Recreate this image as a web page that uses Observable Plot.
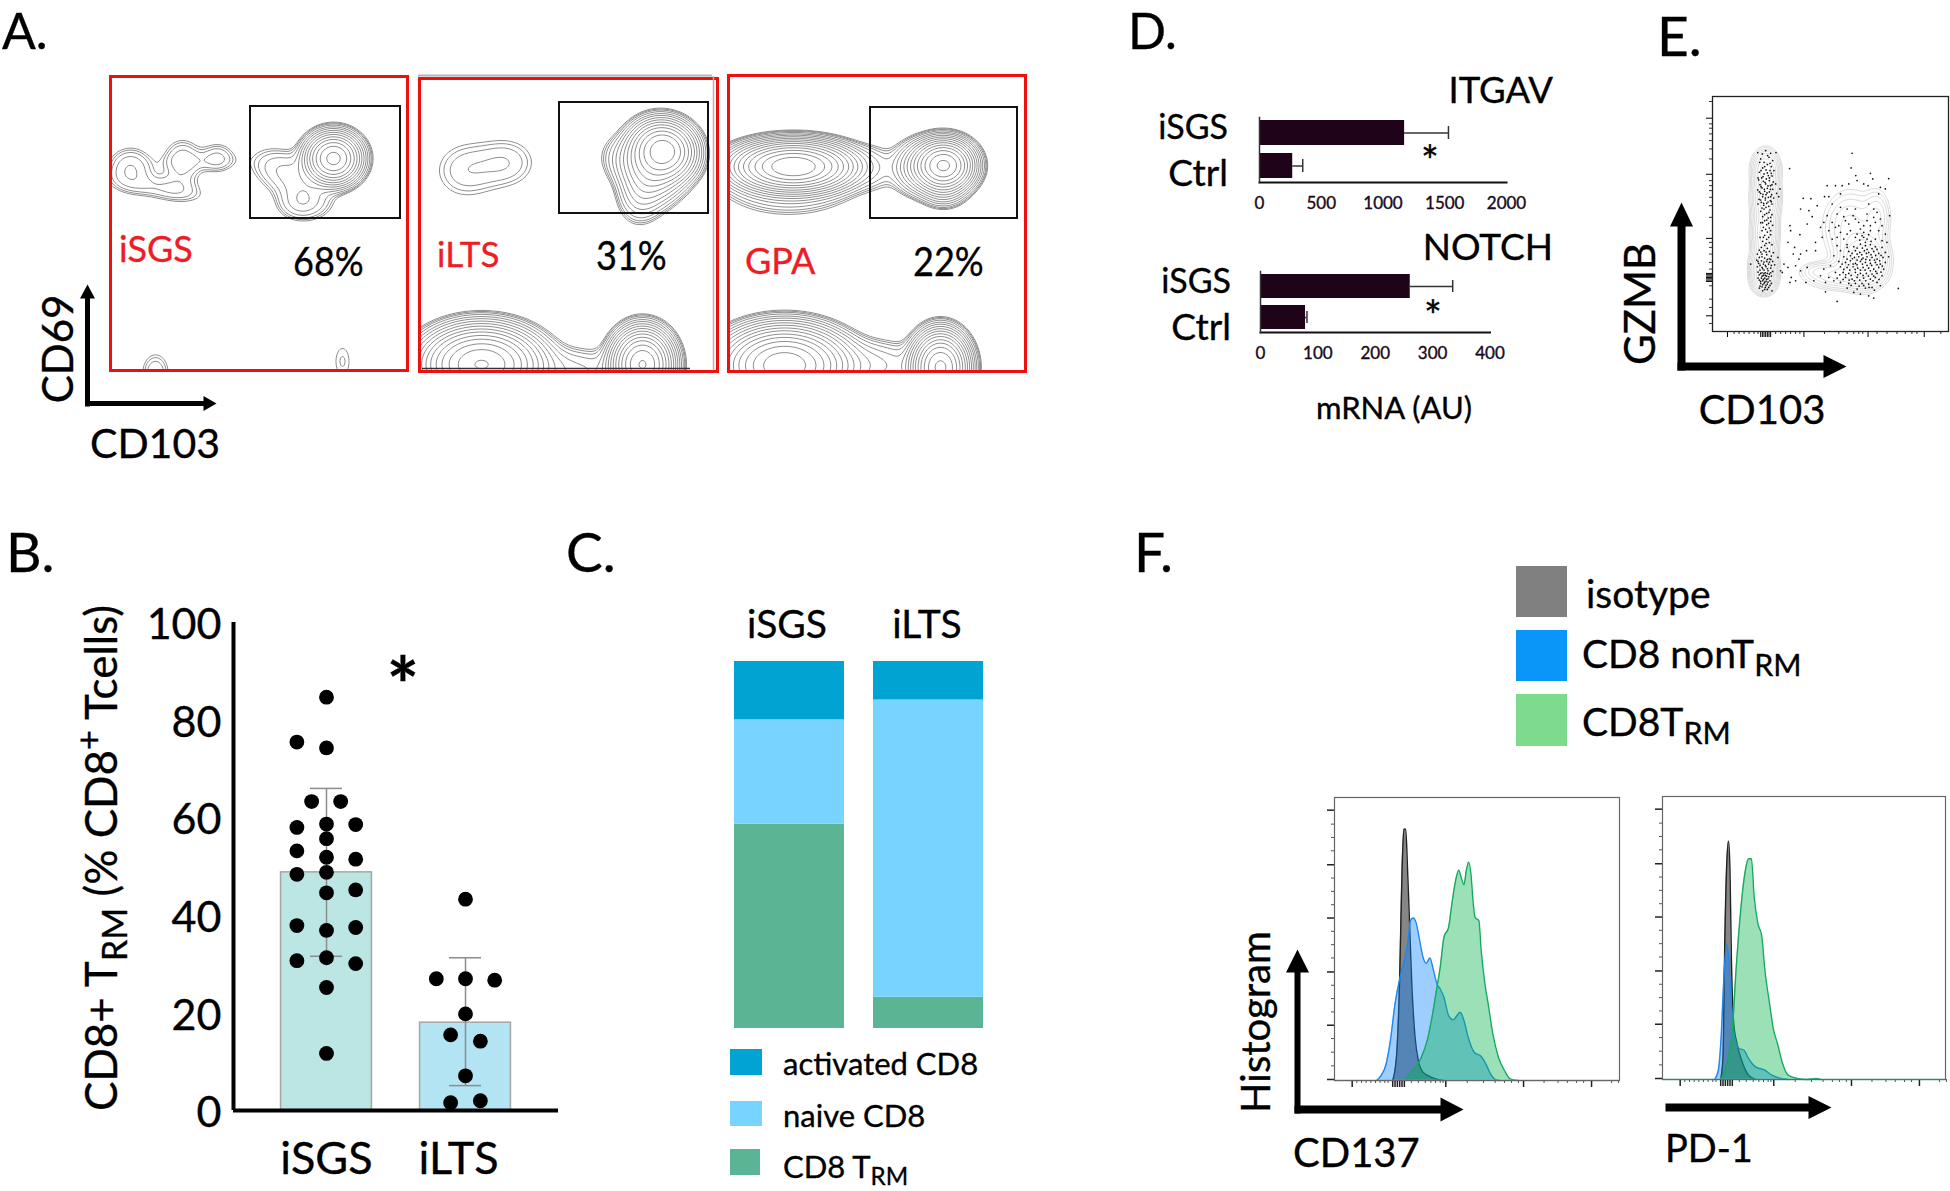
<!DOCTYPE html>
<html><head><meta charset="utf-8">
<script src="https://cdn.jsdelivr.net/npm/d3@7"></script>
<script src="https://cdn.jsdelivr.net/npm/@observablehq/plot@0.6"></script>
<style>
html,body{margin:0;padding:0;background:#fff;overflow:hidden}
#page{position:relative;width:1950px;height:1191px;font-family:Lato,"Noto Sans",sans-serif;color:#000;overflow:hidden}
#page>svg,#page>div.p{position:absolute}
#page svg text{stroke:#000;stroke-width:.35px}
.t{position:absolute;line-height:1;white-space:nowrap;-webkit-text-stroke-width:.35px}
.t sub,.t sup{font-size:.78em;line-height:0}
.s{position:absolute}
</style></head><body><div id="page"></div>
<script>
// ---------- Panel B ----------
const bGroups = ["iSGS","iLTS"];
const bMeans = [48.8,18];
const bLow = [31.6,5.1];
const bHigh = [66,31.3];
const bFill = ["#bce6e4","#b2e4f4"];
const bDotsGroup = [1,1,1,1,1,1,1,1,1,1,1,1,1,1,1,1,1,1,1,1,1,1,1,1,2,2,2,2,2,2,2,2,2,2];
const bDotsOffset = [0,-.213,0,-.107,.102,-.213,0,.21,0,-.213,0,.21,-.213,0,0,.21,-.213,0,.21,-.213,0,.21,0,0,
  0,-.21,0,.21,0,-.107,.107,0,-.107,.107];
const bDotsValue = [84.7,75.5,74.3,63.3,63.3,58,58.7,58.6,55.7,53.2,51.9,51.5,48.4,48.8,44.6,45.2,37.9,36.9,37.5,30.7,31.3,30.1,25.2,11.7,
  43.3,27,27,26.7,19.8,15.5,14.2,7.1,1.6,2];
// ---------- Panel C ----------
const cGroups = ["iSGS","iLTS"];
const cSeries = ["CD8TRM","naive CD8","activated CD8"];
const cColors = ["#5bb595","#76d4ff","#01a3d3"];
const cISGS = [55.7,28.4,15.9];
const cILTS = [8.5,81,10.5];
// ---------- Panel D ----------
const dGroups = ["iSGS","Ctrl"];
const itgavMean = [1175,269];
const itgavErr = [1530,350];
const notchMean = [261,78.5];
const notchErr = [335,81];
const itgavTicks = [0,500,1000,1500,2000];
const notchTicks = [0,100,200,300,400];
// ---------- Panel A: density peaks [cx, cy, sa, sb, height, angle] ----------
const isgsPeaks = [[223,82,12.5,11.5,150,0],[175,95,22,13,3.5,20],[195,118,18,12,2.5,20],[190,128,14,10,3,0],[20,92,14,13,3.4,0],[72,82,12,13,2.6,0],[107,81,11,10,2.2,0],[50,112,30,8,1.9,10],[90,85,25,6,.7,0],[70,105,14,12,1,0],[45,296,10,14,2.2,0],[232,285,9,18,1.3,0]];
const iltsPeaks = [[244,72,14.5,13,160,15],[235,88,15,18,30,12],[225,85,20,14,10,15],[222,115,12,16,6,10],[46,92,22,20,2,0],[88,84,20,17,2,0],[62,286,25,16,300,0],[223,286,13,15,300,0],[145,293,40,14,4,0]];
const gpaPeaks = [[65,91,25,10.5,420,0],[60,110,35,16,5,0],[215,90,13,11,320,0],[215,112,12,10,10,0],[190,92,13,13,15,0],[145,92,16,14,2.2,0],[56,290,26,16,400,0],[212,292,12,15,320,0],[135,290,35,14,6,0]];
const gateA = [[140,30,290,142],[140,24,289,135],[142,32,289,143]];
const aLevels = [1,1.25,1.6,2.25,3.4,5,7.6,11.4,17,25.6,38,58,86,130,195,290,440];
// ---------- Panel E ----------
const ePeaks = [[195,235,20,28,20,0],[195,320,20,40,25,0],[192,430,19,40,22,0],[190,530,19,30,30,0],[190,570,17,18,25,0],[490,510,34,38,30,0],[450,410,45,60,6,0],[530,380,22,45,5,0],[420,555,55,22,8,0],[350,540,28,14,3,0]];
const eLevels = [1,1.5,2.25,3.4,5,7.6,11.4,17,25.6,38,58];
const eDotsA = [[171,186],[195,180],[210,188],[226,186],[180,205],[205,200],[216,210],[190,215],[200,222],[212,228],[186,232],[196,238],[208,240],[176,245],[220,240],[190,250],[203,255],[214,256],[183,262],[197,265],
[174,268],[188,272],[206,270],[218,274],[178,282],[195,280],[210,285],[225,280],[184,292],[200,293],[216,296],[171,298],[192,302],[206,304],[180,308],[196,312],[213,312],[228,308],[186,318],[203,320],[219,322],[175,326],[194,328],[209,330],[182,335],[198,338],[214,340],[189,344],[204,347],[234,318],[238,295],[172,340],
[190,355],[208,358],[180,362],[198,368],[214,372],[186,378],[203,382],[192,390],[210,392],[180,396],[198,402],[188,410],[206,412],[216,404],[184,420],[200,424],[192,434],[210,432],[178,440],[198,446],[186,452],[206,456],[192,464],[214,462],[182,470],[200,473],
[176,478],[190,480],[206,482],[218,486],[170,490],[184,490],[198,492],[212,496],[176,500],[192,502],[206,504],[168,508],[182,510],[198,512],[216,512],[174,518],[188,520],[204,520],[222,522],[170,528],[184,530],[196,528],[210,532],[178,538],[190,538],[202,540],[216,542],[184,546],[194,546],[206,550],[176,552],[188,554],[198,556],[212,556],[182,562],[192,562],[202,564],[176,568],[186,570],[196,572],[208,570],[180,578],[190,578],[200,580],[212,578],[184,588],[194,590],[176,592],[204,590],[186,600],[214,600],[150,520],[240,540],[232,500],[245,545],[250,520],
[267,234],[308,323],[331,324],[300,355],[325,360],[350,345],[335,378],[268,405],[298,432],[270,420],[262,455],[282,470],[320,400],[345,455],[360,410],[300,490],[318,480],[278,490],[295,505],[285,525],[262,530],[272,560],[268,575],[285,570],[300,540],[320,530],[316,575],[345,480],[375,603],[410,632],[455,188],[452,232],[466,255],[490,280],[510,248],[517,265],[540,290],[565,264],[555,295],[380,285],[405,285],[425,285],[445,280],[470,270],[503,285],[372,318],[385,318],[420,310],[535,310],[594,593],[568,375],
[395,340],[420,350],[440,355],[465,355],[410,370],[380,375],[430,378],[458,375],[505,340],[520,355],[500,370],[530,365],[370,395],[395,395],[415,405],[445,400],[475,395],[500,390],[525,395],[545,405],[540,385],[385,420],[420,425],[450,420],[480,415],[490,425],[510,420],[535,420],[555,430],[365,440],[395,445],[430,445],[465,440],[485,435],[500,445],[525,445],[545,450],[560,455],
[410,465],[440,462],[460,468],[480,460],[495,465],[510,462],[525,468],[545,470],[420,480],[445,482],[465,480],[478,485],[492,480],[505,485],[520,482],[535,488],[555,485],[400,495],[430,498],[450,495],[462,500],[475,498],[488,502],[500,498],[515,500],[530,505],[548,500],[565,498],[415,512],[435,515],[450,510],[465,518],[480,512],[495,515],[510,518],[525,515],[540,520],[555,515],[390,525],[420,528],[440,530],[458,528],[472,532],[488,530],[505,532],[520,535],[535,530],[550,535],[370,535],[405,545],[428,545],[445,548],[465,545],[480,548],[498,548],[515,550],[530,548],[360,555],[385,560],[410,562],[435,560],[455,565],[470,560],[490,562],[510,565],[525,560],[545,555],[340,570],[375,575],[420,575],[445,578],[465,578],[485,578],[505,580],[530,575],[440,592],[470,595],[495,592],[515,590],[540,585],[480,610],[505,615],[520,622],[460,605]];
const eDotsB = [[185,190],[201,195],[177,215],[208,218],[192,228],[181,240],[200,247],[212,248],[187,258],[206,262],[172,262],[193,275],[214,282],[181,288],[202,286],[191,296],[209,296],[176,304],[199,307],[187,311],[210,318],[194,322],[180,328],[202,334],[189,338],[212,333],[196,350],[184,352],[205,365],[192,372],[210,380],[198,388],[186,396],[204,398],[195,416],[210,420],[188,440],[204,440],[196,458],[180,484],[196,484],[210,506],[184,498],[200,506],[172,512],[190,514],[206,514],[178,524],[194,524],[212,524],[186,534],[200,534],[172,544],[180,548],[190,548],[200,548],[210,546],[184,556],[194,554],[204,558],[172,562],[188,566],[198,566],[180,572],[192,574],[202,574],[186,582],[196,584],[208,584],[178,586],[192,596],[200,596],
[440,470],[470,472],[486,472],[500,476],[515,474],[530,476],[455,488],[470,490],[484,492],[498,488],[512,492],[526,494],[542,494],[440,505],[456,504],[470,508],[484,506],[496,506],[508,508],[522,508],[538,510],[425,520],[444,522],[458,520],[470,522],[486,520],[500,524],[514,524],[530,522],[546,526],[430,536],[448,538],[464,536],[480,538],[494,538],[510,540],[526,542],[542,544],[418,552],[436,552],[452,554],[472,552],[488,554],[504,556],[520,556],[400,570],[428,566],[446,568],[462,570],[478,568],[496,570],[518,570],[536,566],[452,584],[476,586],[490,584],[506,590],[522,598],[490,440],[505,432],[478,448],[512,452],[495,455],[470,430],[440,430],[410,440],[405,410],[435,390],[465,385],[490,405],[510,405],[520,380]];
const eTickYMajor = [83,251,443,548,552,556,560,564,568,572,675];
const eTickYMinor = [33,100,113,130,150,175,205,270,285,300,320,345,380,455,470,490,515,535,585,625,650,698];
const eTickXMajor = [80,180,185,190,195,200,205,210,310,503,672];
const eTickXMinor = [100,115,130,145,160,172,225,240,255,270,285,298,372,415,440,460,475,487,530,560,590,615,635,650,722];
// ---------- Panel F ----------
const cd137Gray = [[125,0],[133,70],[140,310],[145,630],[149,755],[153,755],[157,630],[161,480],[166,290],[173,130],[180,60],[190,25],[205,12],[225,2],[235,0]];
const cd137Blue = [[90,0],[100,15],[110,45],[120,120],[130,230],[140,305],[150,360],[158,420],[163,480],[169,488],[175,475],[183,420],[190,370],[197,352],[205,368],[211,340],[220,290],[227,275],[235,250],[245,195],[255,182],[263,195],[270,205],[278,180],[287,130],[300,85],[315,72],[325,50],[335,20],[347,2],[355,0]];
const cd137Green = [[150,0],[165,25],[185,65],[200,125],[210,195],[220,280],[227,340],[235,430],[245,460],[252,530],[260,600],[267,632],[272,610],[278,588],[283,630],[288,656],[293,620],[298,530],[302,490],[310,480],[315,390],[323,290],[330,230],[340,140],[352,70],[365,30],[377,5],[395,0]];
const pd1Gray = [[125,0],[130,68],[134,428],[138,648],[142,716],[145,628],[148,368],[153,168],[160,108],[170,58],[185,13],[200,0]];
const pd1Blue = [[112,0],[120,28],[126,128],[132,308],[138,408],[142,368],[148,228],[155,128],[165,93],[175,88],[185,63],[200,38],[220,28],[235,13],[255,3],[270,0]];
const pd1Green = [[125,0],[140,58],[150,148],[158,328],[168,508],[178,628],[185,663],[191,663],[197,548],[205,468],[213,433],[220,328],[230,228],[238,153],[247,108],[258,48],[270,13],[290,3],[310,0],[330,3],[340,0]];
const fTickYMajor = [3,166,326,488,648,812];
const fTickYMinor = [44,85,126,206,246,286,368,408,448,528,568,608,690,730,770];
const fTickXMajor = [38,125,130,135,140,145,150,239,406,552];
const fTickXMinor = [48,58,68,78,88,98,108,115,165,180,195,207,217,227,233,285,320,345,365,380,395,450,480,500,520,535,595,610];

// ---------- helpers ----------
const page = document.getElementById("page");
const FONT = 'Lato,"Noto Sans",sans-serif';
function place(svg, left, top){ svg.style.left = left+"px"; svg.style.top = top+"px"; svg.style.background="transparent"; svg.style.overflow="visible"; page.appendChild(svg); }
function txt(html, x, y, size, o={}){
  const d = document.createElement("div"); d.className="t"; d.innerHTML = html;
  d.style.left = x+"px"; d.style.top = y+"px"; d.style.fontSize = size+"px";
  if(o.color) d.style.color=o.color;
  if(o.lh) d.style.lineHeight=o.lh;
  const tx = o.anchor==="middle"?"-50%":o.anchor==="end"?"-100%":"0";
  d.style.transform = `translate(${tx},-50%)` + (o.rot?` rotate(${o.rot}deg)`:"") + (o.sx?` scaleX(${o.sx})`:"");
  if(o.sx) d.style.transformOrigin="0 50%";
  if(o.weight) d.style.fontWeight=o.weight;
  page.appendChild(d);
}
function swatch(x,y,w,h,c){ const d=document.createElement("div"); d.className="s"; d.style.cssText+=`left:${x}px;top:${y}px;width:${w}px;height:${h}px;background:${c}`; page.appendChild(d); }
function density(peaks){
  return (x,y)=>{ let s=0; for(const [cx,cy,a,b,h,ang] of peaks){ const t=ang*Math.PI/180, dx=x-cx, dy=y-cy, u=dx*Math.cos(t)+dy*Math.sin(t), v=-dx*Math.sin(t)+dy*Math.cos(t); s+=h*Math.exp(-.5*(u*u/(a*a)+v*v/(b*b))); } return s; };
}
function contourPanel(peaks, gate, left, top, w, h){
  const svg = Plot.plot({width:w,height:h,margin:0,style:{fontFamily:FONT},
    x:{domain:[0,w],range:[0,w],axis:null}, y:{domain:[0,h],range:[0,h],axis:null},
    marks:[
      Plot.contour({value:density(peaks),x1:0,y1:0,x2:w,y2:h,thresholds:aLevels,stroke:"#8f8f8f",strokeWidth:1,fill:"none",pixelSize:1}),
      Plot.rect([gate],{x1:d=>d[0],y1:d=>d[1],x2:d=>d[2],y2:d=>d[3],stroke:"#111",strokeWidth:2,fill:"none"}),
      Plot.frame({stroke:"#f00f0f",strokeWidth:3})
    ]});
  place(svg,left,top);
}
// ---------- A ----------
contourPanel(isgsPeaks,gateA[0],110,76,297,294);
contourPanel(iltsPeaks,gateA[1],419,78,298,293);
contourPanel(gpaPeaks,gateA[2],728,75,297,296);
// ---------- B ----------
{
  const bars = bGroups.map((g,i)=>({g,i:i+1,mean:bMeans[i],lo:bLow[i],hi:bHigh[i],fill:bFill[i]}));
  const dots = bDotsValue.map((v,i)=>({x:bDotsGroup[i]+bDotsOffset[i],v}));
  place(Plot.plot({width:560,height:560,marginLeft:233,marginRight:2,marginTop:22,marginBottom:50,style:{fontFamily:FONT},
    x:{domain:[.331,2.669],axis:null}, y:{domain:[0,100],axis:null},
    marks:[
      Plot.rectY(bars,{x1:d=>d.i-.327,x2:d=>d.i+.327,y1:0,y2:"mean",fill:"fill",stroke:"#a6a6a6",strokeWidth:1.5}),
      Plot.ruleX(bars,{x:"i",y1:"lo",y2:"hi",stroke:"#8c8c8c",strokeWidth:1.5}),
      Plot.ruleY(bars,{y:"hi",x1:d=>d.i-.115,x2:d=>d.i+.115,stroke:"#8c8c8c",strokeWidth:1.5}),
      Plot.ruleY(bars,{y:"lo",x1:d=>d.i-.115,x2:d=>d.i+.115,stroke:"#8c8c8c",strokeWidth:1.5}),
      Plot.dot(dots,{x:"x",y:"v",r:7.4,fill:"#000"}),
      Plot.ruleX([.331],{y1:0,y2:100,stroke:"#000",strokeWidth:4}),
      Plot.ruleY([0],{stroke:"#000",strokeWidth:4}),
      Plot.axisY({ticks:[0,20,40,60,80,100],tickSize:0,tickPadding:12,fontSize:43,dy:3,label:null,color:"#000"}),
      Plot.axisX({ticks:[1,1.95],tickFormat:d=>bGroups[d===1?0:1],tickSize:0,tickPadding:32,fontSize:45,label:null,color:"#000"})
    ]}),0,600);
}
// ---------- C ----------
{
  const rows=[]; cSeries.forEach((s,i)=>{rows.push({g:"iSGS",s,v:cISGS[i]});rows.push({g:"iLTS",s,v:cILTS[i]});});
  place(Plot.plot({width:249,height:367,margin:0,style:{fontFamily:FONT},
    x:{domain:cGroups,paddingInner:.209,paddingOuter:0,axis:null}, y:{domain:[0,100],axis:null},
    color:{domain:cSeries,range:cColors},
    marks:[Plot.barY(rows,{x:"g",y:"v",fill:"s",order:cSeries})]}),734,661);
}
// ---------- D ----------
function hbar(mean,err,ticks,left,top,w,h,xmax,pi,po){
  const data = dGroups.map((g,i)=>({g,m:mean[i],e:err[i]}));
  place(Plot.plot({width:w,height:h,margin:0,style:{fontFamily:FONT},
    x:{domain:[0,xmax],axis:null}, y:{domain:dGroups,paddingInner:pi,paddingOuter:po,axis:null},
    marks:[
      Plot.barX(data,{y:"g",x:"m",fill:"#1f0319"}),
      Plot.ruleY(data,{y:"g",x1:"m",x2:"e",stroke:"#333",strokeWidth:1.5}),
      Plot.tickX(data,{y:"g",x:"e",stroke:"#333",strokeWidth:1.5,insetTop:6,insetBottom:6}),
      Plot.axisX({ticks,tickFormat:d3.format("d"),tickSize:0,tickPadding:14,fontSize:17,label:null,color:"#2a0a2a"}),
      Plot.frame({anchor:"bottom",strokeWidth:2,stroke:"#111"}),
      Plot.frame({anchor:"left",strokeWidth:1.5,stroke:"#333"})
    ]}),left,top);
}
hbar(itgavMean,itgavErr,itgavTicks,1259,117,247,65,2000,.24,.09);
hbar(notchMean,notchErr,notchTicks,1260,271,229.5,61,400,.24,.09);
// ---------- E ----------
{
  const w=236,h=235;
  place(Plot.plot({width:w,height:h,margin:0,style:{fontFamily:FONT},
    x:{domain:[35,745],axis:null}, y:{domain:[18,722],range:[0,h],axis:null},
    marks:[
      Plot.contour({value:density(ePeaks),x1:35,y1:18,x2:745,y2:722,thresholds:eLevels,stroke:"#dcdcdc",strokeWidth:1,fill:"none",pixelSize:1}),
      Plot.dot(eDotsA.concat(eDotsB),{x:d=>d[0],y:d=>d[1],r:.85,fill:"#111"}),
      Plot.axisY({ticks:eTickYMajor,tickSize:6,tickFormat:()=>"",label:null,color:"#000"}),
      Plot.axisY({ticks:eTickYMinor,tickSize:3,tickFormat:()=>"",label:null,color:"#333"}),
      Plot.axisX({ticks:eTickXMajor,tickSize:6,tickFormat:()=>"",label:null,color:"#000"}),
      Plot.axisX({ticks:eTickXMinor,tickSize:3,tickFormat:()=>"",label:null,color:"#333"}),
      Plot.frame({stroke:"#222",strokeWidth:1.3})
    ]}),1712,96);
}
// ---------- F ----------
function hist(gray,blue,green,left,top,w,h,xmax){
  const area=(d,c,s,o)=>[
    Plot.areaY(d,{x:p=>p[0],y:p=>p[1],fill:c,fillOpacity:o,curve:"monotone-x"}),
    Plot.lineY(d,{x:p=>p[0],y:p=>p[1],stroke:s,strokeWidth:1.4,curve:"monotone-x"})];
  place(Plot.plot({width:w,height:h,margin:0,style:{fontFamily:FONT},
    x:{domain:[0,xmax],axis:null}, y:{domain:[0,850],axis:null},
    marks:[
      area(gray,"#808080","#222",.95), area(blue,"#0a84ff","#1e88ee",.4), area(green,"#07b14d","#14ab5e",.4),
      Plot.ruleY([0],{stroke:"#6cc4b8",strokeWidth:1.5}),
      Plot.axisY({ticks:fTickYMajor,tickSize:7,tickFormat:()=>"",label:null,color:"#222",strokeWidth:1.5}),
      Plot.axisY({ticks:fTickYMinor,tickSize:3,tickFormat:()=>"",label:null,color:"#555"}),
      Plot.axisX({ticks:fTickXMajor,tickSize:7,tickFormat:()=>"",label:null,color:"#222",strokeWidth:1.5}),
      Plot.axisX({ticks:fTickXMinor,tickSize:3,tickFormat:()=>"",label:null,color:"#555"}),
      Plot.frame({stroke:"#666",strokeWidth:1.2})
    ]}),left,top);
}
hist(cd137Gray,cd137Blue,cd137Green,1334,797,285,283,612);
hist(pd1Gray,pd1Blue,pd1Green,1662,796,283,283,608);
// ---------- arrows + panel decorations ----------
function arrow(id,x0,y0,x1,y1,t,hw,hl){
  const L=Math.hypot(x1-x0,y1-y0),ux=(x1-x0)/L,uy=(y1-y0)/L,nx=-uy,ny=ux,bx=x1-ux*hl,by=y1-uy*hl;
  return [[x0+nx*t/2,y0+ny*t/2],[bx+nx*t/2,by+ny*t/2],[bx+nx*hw/2,by+ny*hw/2],[x1,y1],[bx-nx*hw/2,by-ny*hw/2],[bx-nx*t/2,by-ny*t/2],[x0-nx*t/2,y0-ny*t/2]].map(p=>({id,x:p[0],y:p[1]}));
}
const arrowShapes=[
  arrow(1,87,406,87,284,5,15,14),arrow(2,85,403,216,403,5,15,13),
  arrow(3,1681,370,1681,202,8,23,24),arrow(4,1677,366,1846,366,8,23,23),
  arrow(5,1297,1113,1297,949,6,23,23),arrow(6,1294,1109,1463,1109,8,24,23),
  arrow(7,1665,1107,1831,1107,8,23,23)
].flat();
place(Plot.plot({width:1950,height:1191,margin:0,
  x:{domain:[0,1950],range:[0,1950],axis:null},y:{domain:[0,1191],range:[0,1191],axis:null},
  marks:[
    Plot.line(arrowShapes,{x:"x",y:"y",z:"id",fill:"#000",stroke:"none",curve:"linear-closed"}),
    Plot.ruleY([75],{x1:418,x2:712,stroke:"#b5b5b5",strokeWidth:2}),
    Plot.ruleX([713],{y1:76,y2:370,stroke:"#b5b5b5",strokeWidth:1.5}),
    Plot.ruleY([368],{x1:422,x2:690,stroke:"#333",strokeWidth:1.5})
  ]}),0,0);
page.lastChild.style.pointerEvents="none";
// ---------- text ----------
const S=55, L={lh:.8};
txt("A.",2,30,50,L); txt("D.",1128,30,50,L); txt("E.",1657,35,S,L);
txt("B.",6,551,S,L); txt("C.",566,551,S,L); txt("F.",1134,551,S,L);
const RED="#ee1c25";
txt("iSGS",119,248,36,{color:RED}); txt("68%",293,260,41,{sx:.88});
txt("iLTS",437,253,35,{color:RED}); txt("31%",596,254,41,{sx:.88});
txt("GPA",745,260,36,{color:RED}); txt("22%",913,260,41,{sx:.88});
txt("CD69",57,349,42,{anchor:"middle",rot:-90});
txt("CD103",155,442,41,{anchor:"middle"});
txt("CD8+ T<sub>RM</sub> (% CD8<sup>+</sup> Tcells)",100,858,44,{anchor:"middle",rot:-90});
txt("*",403,684,76,{anchor:"middle",weight:700});
txt("iSGS",787,623,39,{anchor:"middle"}); txt("iLTS",927,623,39,{anchor:"middle"});
swatch(730,1049,32,26,cColors[2]); swatch(730,1101,32,25,cColors[1]); swatch(730,1149,30,26,cColors[0]);
txt("activated CD8",783,1063,31); txt("naive CD8",783,1115,31); txt("CD8 T<sub>RM</sub>",783,1166,31);
txt("ITGAV",1553,89,36.5,{anchor:"end"}); txt("NOTCH",1553,245,37,{anchor:"end"});
txt("iSGS",1228,126,34,{anchor:"end"}); txt("Ctrl",1228,171,37,{anchor:"end"});
txt("iSGS",1231,280,34,{anchor:"end"}); txt("Ctrl",1231,325,37,{anchor:"end"});
txt("*",1430,160,42,{anchor:"middle"}); txt("*",1433,315,42,{anchor:"middle"});
txt("mRNA (AU)",1394,407,31,{anchor:"middle"});
txt("GZMB",1639,304,42,{anchor:"middle",rot:-90}); txt("CD103",1762,409,40,{anchor:"middle"});
swatch(1516,566,51,51,"#808080"); swatch(1516,630,51,51,"#0a96f8"); swatch(1516,694,51,52,"#7ddb8d");
txt("isotype",1586,593,39); txt("CD8 nonT<sub>RM</sub>",1582,653,39); txt("CD8T<sub>RM</sub>",1582,721,39);
txt("Histogram",1255,1022,40,{anchor:"middle",rot:-90});
txt("CD137",1293,1152,40); txt("PD-1",1665,1147,38);
</script></body></html>
